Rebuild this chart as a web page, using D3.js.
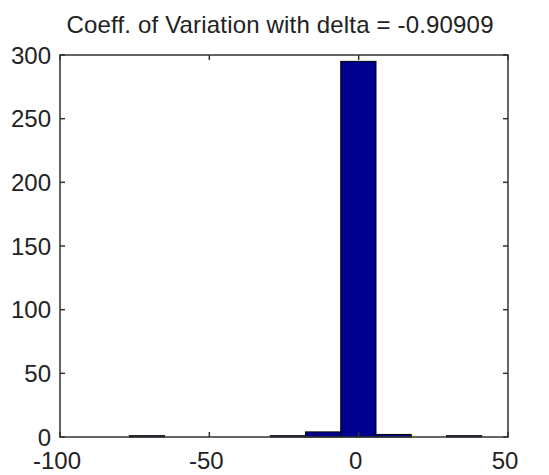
<!DOCTYPE html>
<html>
<head>
<meta charset="utf-8">
<script src="https://cdn.jsdelivr.net/npm/d3@7.9.0/dist/d3.min.js"></script>
<style>
  body { margin: 0; background: #fff; }
  svg { display: block; font-family: "Liberation Sans", Arial, sans-serif; }
</style>
</head>
<body>
<svg id="chart" width="549" height="475"></svg>
<script>
// histogram data
const binEdges = [-76.8, -65.0, -53.2, -41.4, -29.6, -17.8, -6.0, 5.8, 17.6, 29.4, 41.2];
const counts = [1, 0, 0, 0, 1, 4, 295, 2, 0, 1];
const xTicks = [-100, -50, 0, 50];
const yTicks = [0, 50, 100, 150, 200, 250, 300];
const titleText = "Coeff. of Variation with delta = -0.90909";

const svg = d3.select("#chart");
const plotLeft = 60, plotRight = 508, plotTop = 55, plotBottom = 437;

const x = d3.scaleLinear().domain([-100, 50]).range([plotLeft, plotRight]);
const y = d3.scaleLinear().domain([0, 300]).range([plotBottom, plotTop]);

// bars
const bins = counts.map((c, i) => ({ x0: binEdges[i], x1: binEdges[i + 1], count: c }));
svg.append("g")
    .selectAll("rect")
    .data(bins)
    .enter()
    .append("rect")
    .attr("x", d => x(d.x0))
    .attr("width", d => x(d.x1) - x(d.x0))
    .attr("y", d => y(d.count))
    .attr("height", d => y(0) - y(d.count))
    .attr("fill", "#00008f")
    .attr("stroke", "#000")
    .attr("stroke-width", 1);

// box
svg.append("rect")
    .attr("x", plotLeft).attr("y", plotTop)
    .attr("width", plotRight - plotLeft).attr("height", plotBottom - plotTop)
    .attr("fill", "none").attr("stroke", "#333").attr("stroke-width", 1.5);

// inward ticks on all four sides
const tickLen = 5;
const ticks = svg.append("g").attr("stroke", "#333").attr("stroke-width", 1.5);
xTicks.forEach(t => {
    ticks.append("line").attr("x1", x(t)).attr("x2", x(t)).attr("y1", plotBottom).attr("y2", plotBottom - tickLen);
    ticks.append("line").attr("x1", x(t)).attr("x2", x(t)).attr("y1", plotTop).attr("y2", plotTop + tickLen);
});
yTicks.forEach(t => {
    ticks.append("line").attr("y1", y(t)).attr("y2", y(t)).attr("x1", plotLeft).attr("x2", plotLeft + tickLen);
    ticks.append("line").attr("y1", y(t)).attr("y2", y(t)).attr("x1", plotRight).attr("x2", plotRight - tickLen);
});

// tick labels
svg.append("g")
    .selectAll("text")
    .data(xTicks)
    .enter()
    .append("text")
    .attr("x", d => x(d) - 3)
    .attr("y", 469)
    .attr("text-anchor", "middle")
    .attr("font-size", 24)
    .attr("fill", "#222")
    .text(d => d);

svg.append("g")
    .selectAll("text")
    .data(yTicks)
    .enter()
    .append("text")
    .attr("x", plotLeft - 9)
    .attr("y", d => y(d))
    .attr("dy", "0.36em")
    .attr("text-anchor", "end")
    .attr("font-size", 24)
    .attr("fill", "#222")
    .text(d => d);

// title
svg.append("text")
    .attr("x", 280)
    .attr("y", 33)
    .attr("text-anchor", "middle")
    .attr("font-size", 24)
    .attr("textLength", 427)
    .attr("lengthAdjust", "spacing")
    .attr("fill", "#222")
    .text(titleText);
</script>
</body>
</html>
